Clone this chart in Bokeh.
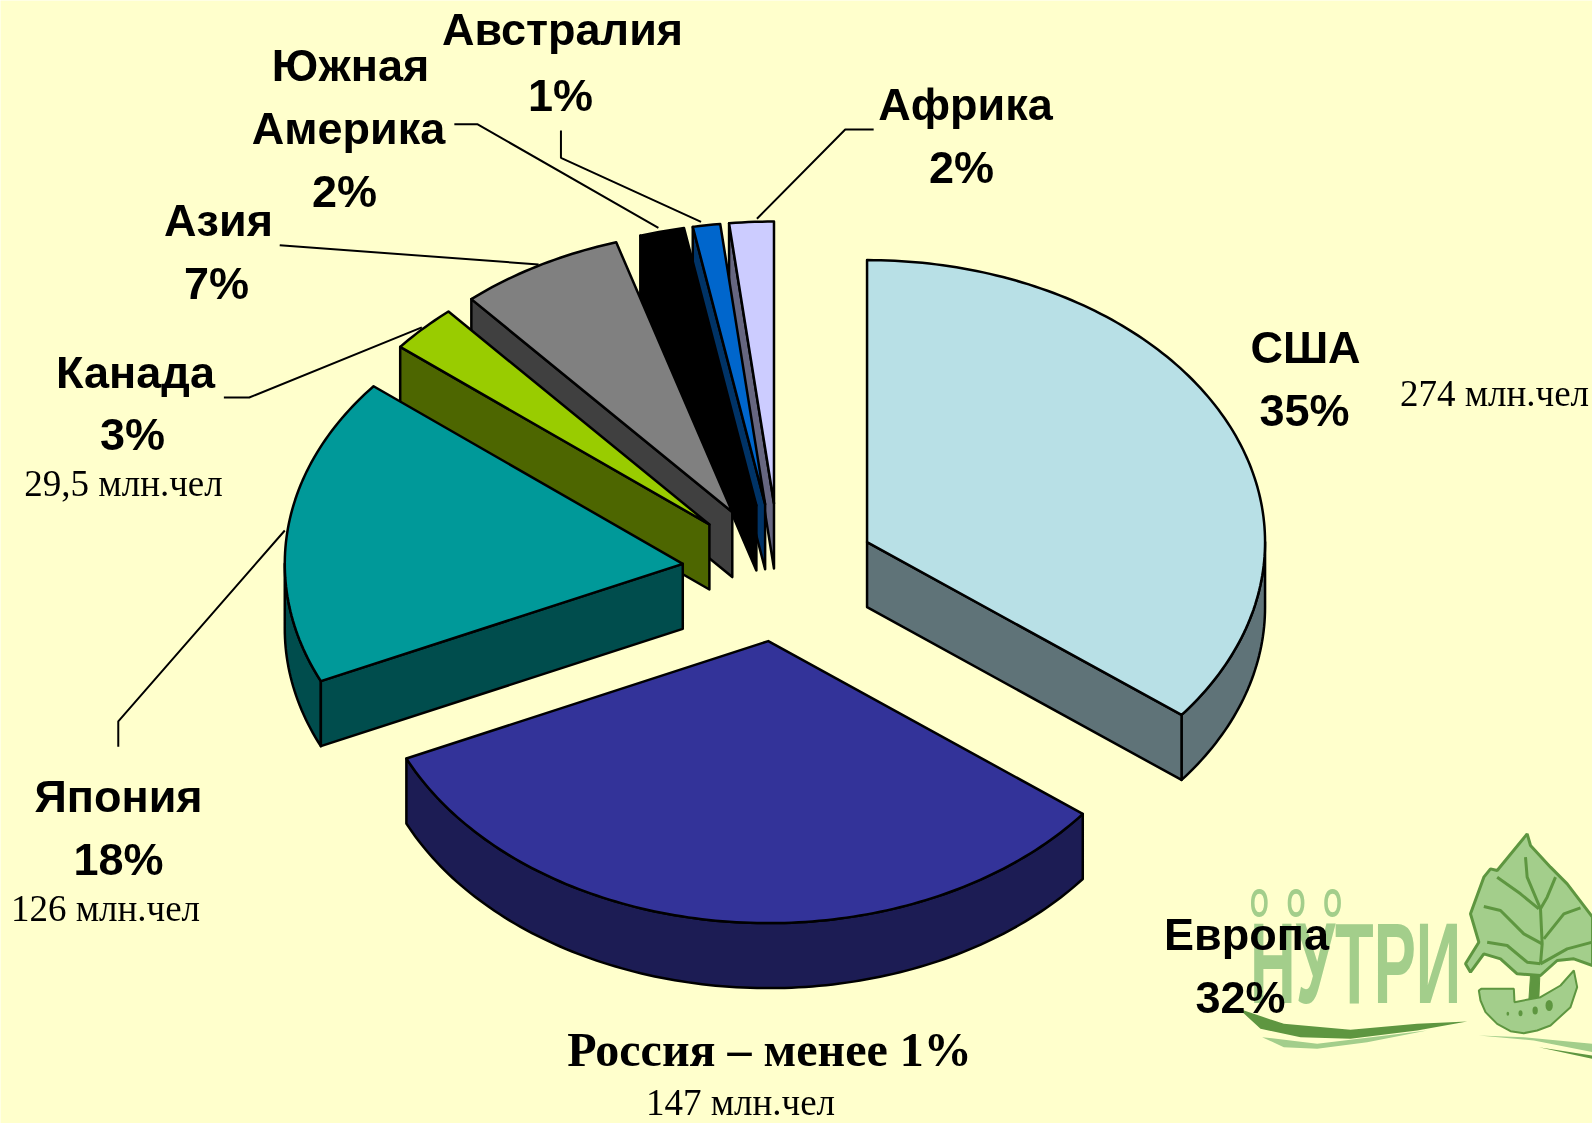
import math
from bokeh.plotting import figure
from bokeh.layouts import column
from bokeh.models import Div, Range1d
from bokeh.core.properties import value
from bokeh.embed import file_html
from bokeh.resources import INLINE

# ---- data ----
regions = ["США", "Европа", "Япония", "Канада", "Азия", "Южная Америка", "Австралия", "Африка"]
percent_labels = ["35%", "32%", "18%", "3%", "7%", "2%", "1%", "2%"]
shares = [35.5, 32.67, 17.67, 2.78, 6.67, 1.8, 1.11, 1.8]
population_notes = ["274 млн.чел", "147 млн.чел", "126 млн.чел", "29,5 млн.чел"]
title = "Россия – менее 1%"

top_colors = ["#B8E0E6", "#333399", "#009999", "#99CC00", "#808080", "#000000", "#0066CC", "#CCCCFF"]
side_colors = ["#5F7378", "#1C1C54", "#004D4D", "#4D6600", "#404040", "#000000", "#003366", "#666680"]

BG = "#FFFFCC"
W, H = 1592, 1123
S = W / 1568
CX, CY, RX, RY, EXPLODE, DEPTH = 779, 572, 398, 282, 97.5, 65

p = figure(width=W, height=H, x_range=Range1d(0, W), y_range=Range1d(H, 0),
           output_backend="svg", toolbar_location=None, min_border=0,
           background_fill_color=BG, border_fill_color=BG, outline_line_color=None)
p.axis.visible = False
p.grid.visible = False


def logo(pts, **kw):
    p.patch([1150 + x / 3 for x, y in pts], [820 + y / 3 for x, y in pts], **kw)


def logo_line(pts, **kw):
    p.line([1150 + x / 3 for x, y in pts], [820 + y / 3 for x, y in pts], **kw)


LIGHT, DARK = "#A3CE8B", "#5E9640"
logo([(1130, 40), (1140, 75), (1200, 140), (1250, 190), (1326, 290), (1326, 435), (1270, 415), (1220, 420),
      (1170, 465), (1100, 460), (1050, 415), (1000, 400), (960, 455), (945, 430), (985, 365), (960, 280),
      (1000, 170), (1020, 145), (1040, 150)], fill_color=LIGHT, line_color=DARK, line_width=3)
for vein in ([(1125, 110), (1130, 170), (1170, 265), (1175, 370), (1170, 430)],
             [(1040, 170), (1110, 220), (1165, 265)],
             [(1215, 170), (1190, 230), (1170, 265)],
             [(1000, 258), (1050, 270), (1120, 340), (1175, 370)],
             [(1290, 262), (1240, 280), (1180, 355)],
             [(1326, 365), (1250, 385), (1170, 430)],
             [(1010, 365), (1070, 375), (1130, 425), (1170, 430)]):
    logo_line(vein, line_color=DARK, line_width=3)
logo([(1140, 465), (1168, 465), (1165, 535), (1135, 540)], fill_color=DARK, line_color=DARK)
logo([(985, 510), (992, 505), (1090, 505), (1092, 545), (1170, 530), (1230, 495), (1270, 450), (1280, 500),
      (1260, 560), (1200, 615), (1160, 630), (1120, 638), (1080, 632), (1040, 610), (1005, 575), (990, 540)],
     fill_color=LIGHT, line_color=DARK, line_width=2)
logo([(265, 565), (400, 610), (600, 628), (800, 610), (950, 603), (800, 630), (600, 655), (450, 650), (330, 625)],
     fill_color=DARK, line_color=None)
logo([(335, 650), (500, 670), (830, 630), (650, 665), (500, 685), (400, 680)], fill_color=LIGHT, line_color=None)
logo([(985, 645), (1120, 650), (1326, 670), (1326, 695), (1150, 660)], fill_color=LIGHT, line_color=None)
logo([(1165, 680), (1326, 705), (1326, 715)], fill_color=DARK, line_color=None)
for bx, by, r in ((1072, 580, 4), (1110, 578, 6), (1154, 570, 8), (1196, 555, 11)):
    p.ellipse([1150 + bx / 3], [820 + by / 3], width=2 * r / 3, height=3 * r / 3, fill_color=DARK, line_color=None)

# ---- exploded 3-D pie, computed from the shares ----
total = sum(shares)
spans = []
a = 0.0
for s in shares:
    b = a + s / total * 360
    spans.append((a, b))
    a = b


def rim(cx, cy, deg):
    t = math.radians(deg)
    return cx + RX * math.sin(t), cy - RY * math.cos(t)


def arc(cx, cy, d0, d1):
    n = max(2, int(abs(d1 - d0)) + 2)
    return [rim(cx, cy, d0 + (d1 - d0) * i / (n - 1)) for i in range(n)]


def face(pts, color):
    p.patch([q[0] for q in pts], [q[1] for q in pts], fill_color=color, line_color="black", line_width=2.5,
            line_join="round")


draw_order = [0, 7, 6, 5, 4, 3, 2, 1]
for i in draw_order:
    a0, a1 = spans[i]
    mid = math.radians((a0 + a1) / 2)
    ax = CX + EXPLODE * math.sin(mid)
    ay = CY - EXPLODE * RY / RX * math.cos(mid)
    # outer wall
    v0, v1 = max(a0, 90), min(a1, 270)
    if v1 > v0:
        top = arc(ax, ay, v0, v1)
        face(top + [(x, y + DEPTH) for x, y in reversed(top)], side_colors[i])
    # radial walls
    for ang, vis in ((a0, math.sin(math.radians(a0)) < 0), (a1, math.sin(math.radians(a1)) > 0)):
        if vis:
            rx, ry = rim(ax, ay, ang)
            face([(ax, ay), (rx, ry), (rx, ry + DEPTH), (ax, ay + DEPTH)], side_colors[i])
    # top
    face([(ax, ay)] + arc(ax, ay, a0, a1), top_colors[i])

# ---- leader lines ----
leaders = [[(860, 127), (832, 127), (745, 215)],
           [(552, 128), (552, 155), (690, 218)],
           [(447, 122), (470, 122), (648, 224)],
           [(275, 241), (530, 260)],
           [(220, 391), (245, 391), (415, 322)],
           [(116, 735), (116, 710), (280, 522)]]
for seg in leaders:
    p.line([q[0] * S for q in seg], [q[1] * S for q in seg], line_color="black", line_width=2)


# ---- texts ----
def label(x, y, txt, font="Liberation Sans", size=45, style="bold"):
    p.text([x], [y], text=[txt], text_font=value(font), text_font_size=f"{size}px", text_font_style=style,
           text_align="center", text_baseline="middle", text_color="black")


BOLD = [("Австралия", 562, 29), (percent_labels[6], 560, 95),
        ("Южная", 350, 65), ("Америка", 348, 128), (percent_labels[5], 344, 191),
        ("Африка", 965, 104), (percent_labels[7], 961, 167),
        ("Азия", 218, 220), (percent_labels[4], 216, 283),
        ("Канада", 135, 372), (percent_labels[3], 132, 434),
        ("США", 1305, 347), (percent_labels[0], 1304, 410),
        ("Япония", 118, 796), (percent_labels[2], 118, 859),
        ("Европа", 1246, 934), (percent_labels[1], 1240, 997)]
for txt, x, y in BOLD:
    label(x, y, txt)
for txt, x, y in zip(population_notes, (1494, 740, 105, 123), (393, 1102, 908, 483)):
    label(x, y, txt, "Liberation Serif", 37, "normal")
label(769, 1049, title, "Liberation Serif", 48, "bold")

# ---- logo lettering (condensed through CSS) ----
text_style = {"position": "absolute", "margin": "0", "padding": "0", "transform-origin": "left top",
              "mix-blend-mode": "multiply", "color": "#A3CEAE", "font-family": "Liberation Sans", "font-weight": "bold"}
brand = Div(text="<div style='font-size:115px;line-height:115px;white-space:nowrap'>НУТРИ</div>",
            styles={**text_style, "left": "1250px", "top": "906px", "transform": "scaleX(0.55)"})
ooo = Div(text="<div style='font-size:40px;line-height:40px;white-space:nowrap;letter-spacing:30px'>ООО</div>",
          styles={**text_style, "left": "1250px", "top": "883px", "transform": "scaleX(0.6)"})

layout = column(p, brand, ooo, styles={"position": "absolute", "left": "0", "top": "0"}, width=W, height=H)
open("out.html", "w").write(file_html(layout, INLINE))
